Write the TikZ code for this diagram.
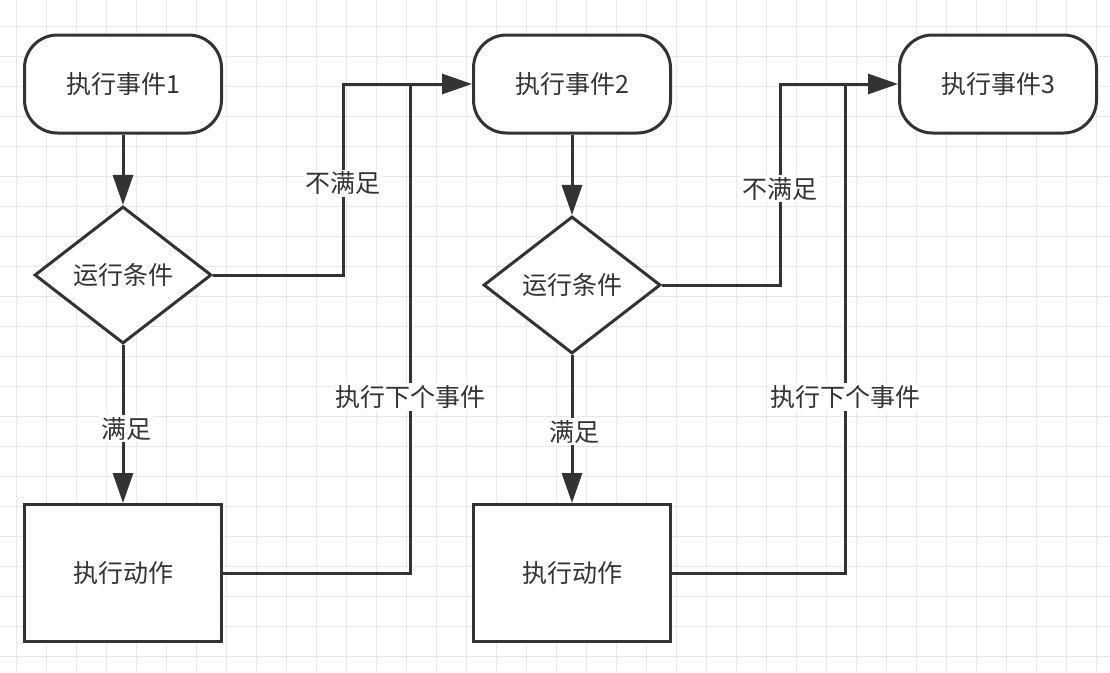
\documentclass[tikz,border=0pt]{standalone}
\usepackage{fontspec}
\newfontfamily\cjk{Noto Sans CJK SC}
\usetikzlibrary{shapes.geometric,arrows.meta}
\definecolor{ink}{HTML}{333333}
\definecolor{gridc}{HTML}{E8E8E8}
\begin{document}
\begin{tikzpicture}[x=1pt,y=-1pt,
 txt/.style={text=ink, font=\cjk\fontsize{25}{30}\selectfont},
 base/.style={txt, draw=ink, line width=3pt, fill=white},
 event/.style={base, rectangle, rounded corners=33pt, minimum width=197pt, minimum height=98pt},
 cond/.style={base, diamond, inner sep=0pt, minimum width=177pt, minimum height=137pt},
 act/.style={base, rectangle, minimum width=197pt, minimum height=137pt},
 conn/.style={draw=ink, line width=3pt},
 arr/.style={conn, -{Triangle[length=30pt,width=20pt]}},
 lbl/.style={txt, fill=white, inner sep=2pt}
]
\useasboundingbox (0,0) rectangle (1110,672);
\fill[white] (0,0) rectangle (1110,672);
\foreach \i in {0,...,36} \draw[gridc, line width=1.5pt] ({16.7+30*\i},0) -- ({16.7+30*\i},672);
\foreach \i in {0,...,21} \draw[gridc, line width=1.5pt] (0,{26.7+30*\i}) -- (1110,{26.7+30*\i});

\node[event] (e1) at (123,84) {执行事件1};
\node[event] (e2) at (572,84) {执行事件2};
\node[event] (e3) at (998,84) {执行事件3};
\node[cond] (d1) at (123,275) {运行条件};
\node[cond] (d2) at (572,285) {运行条件};
\node[act] (r1) at (123,573) {执行动作};
\node[act] (r2) at (572,573) {执行动作};

\coordinate (j1) at (343,84);
\coordinate (j2) at (410,84);
\coordinate (j3) at (780,84);
\coordinate (j4) at (845,84);

\draw[arr] (e1) -- (d1);
\draw[arr] (d1) -- node[lbl,pos=0.53,xshift=3pt]{满足} (r1);
\draw[arr] (d1.east) -| node[lbl,pos=0.74]{不满足} (j1) -- (e2);
\draw[conn] (r1.east) -| node[lbl,pos=0.68]{执行下个事件} (j2);

\draw[arr] (e2) -- (d2);
\draw[arr] (d2) -- node[lbl,pos=0.52,xshift=2pt]{满足} (r2);
\draw[arr] (d2.east) -| node[lbl,pos=0.74]{不满足} (j3) -- (e3);
\draw[conn] (r2.east) -| node[lbl,pos=0.68]{执行下个事件} (j4);
\end{tikzpicture}
\end{document}
